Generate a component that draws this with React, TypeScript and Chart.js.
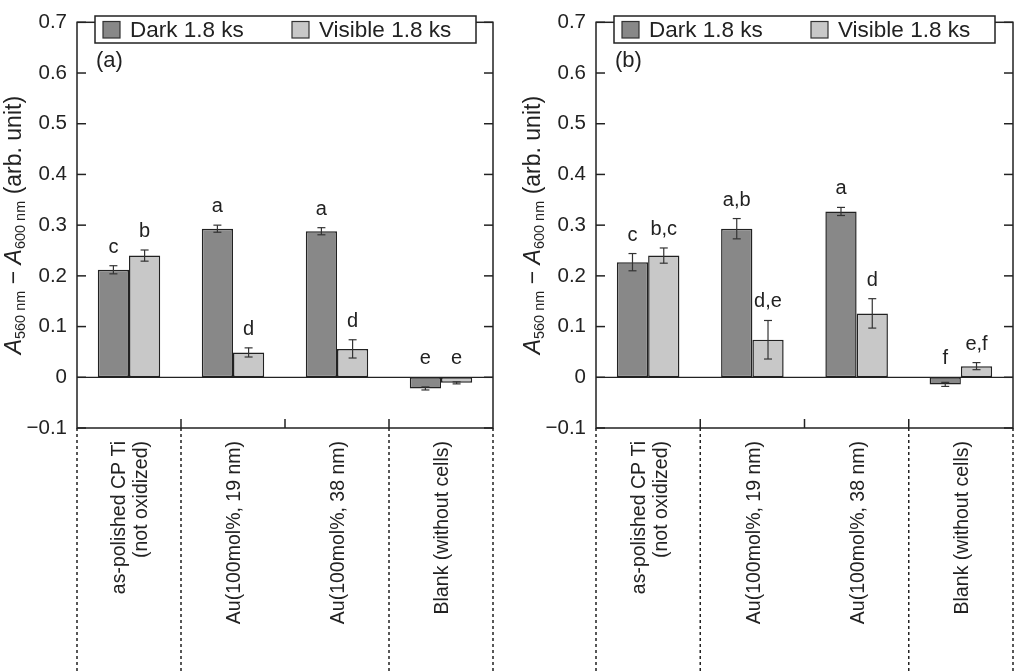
import { useEffect, useRef } from "react";
import { Chart, registerables } from "chart.js";

Chart.register(...registerables);

// categories (two-line label for the first one)
const categories = [
  ["as-polished CP Ti", "(not oxidized)"],
  ["Au(100mol%, 19 nm)"],
  ["Au(100mol%, 38 nm)"],
  ["Blank (without cells)"],
];
const seriesNames = ["Dark 1.8 ks", "Visible 1.8 ks"];

// panel (a)
const darkA = [0.212, 0.293, 0.288, -0.022];
const darkErrA = [0.008, 0.007, 0.007, 0.003];
const darkLetA = ["c", "a", "a", "e"];
const visA = [0.24, 0.049, 0.056, -0.011];
const visErrA = [0.011, 0.009, 0.018, 0.002];
const visLetA = ["b", "d", "d", "e"];

// panel (b)
const darkB = [0.227, 0.293, 0.327, -0.014];
const darkErrB = [0.017, 0.02, 0.008, 0.004];
const darkLetB = ["c", "a,b", "a", "f"];
const visB = [0.24, 0.074, 0.126, 0.022];
const visErrB = [0.015, 0.038, 0.029, 0.007];
const visLetB = ["b,c", "d,e", "d", "e,f"];

// y axis range
const yMin = -0.1;
const yMax = 0.7;
const yStep = 0.1;

// dashed separators below the plot (category boundary indexes)
const dividerAt = [0, 1, 3, 4];

const INK = "#222";
const DARK = "#888888";
const LIGHT = "#c8c8c8";
const FAMILY = '"Liberation Sans", Arial, Helvetica, sans-serif';
const font = (size: number, style = "") => `${style} ${size}px ${FAMILY}`.trim();

const titleParts = [
  { t: "A", italic: true },
  { t: "560 nm", sub: true },
  { t: " \u2212 " },
  { t: "A", italic: true },
  { t: "600 nm", sub: true },
  { t: " (arb. unit)" },
];

function line(ctx: CanvasRenderingContext2D, x1: number, y1: number, x2: number, y2: number) {
  ctx.beginPath();
  ctx.moveTo(x1, y1);
  ctx.lineTo(x2, y2);
  ctx.stroke();
}

const decor = {
  id: "decor",
  afterDatasetsDraw(chart: any, _args: any, opts: any) {
    const { ctx, chartArea: a, scales } = chart;
    const x = scales.x;
    const y = scales.y;
    const half = (x.getPixelForValue(1) - x.getPixelForValue(0)) / 2;
    const edge = (k: number) => x.getPixelForValue(0) - half + k * 2 * half;

    ctx.save();
    ctx.strokeStyle = INK;
    ctx.fillStyle = INK;

    // zero line
    ctx.lineWidth = 1.2;
    const y0 = y.getPixelForValue(0);
    line(ctx, a.left, y0, a.right, y0);

    // error bars
    chart.data.datasets.forEach((ds: any, di: number) => {
      const meta = chart.getDatasetMeta(di);
      meta.data.forEach((bar: any, i: number) => {
        const v = ds.data[i];
        const e = ds.errors[i];
        const top = y.getPixelForValue(v + e);
        const bot = y.getPixelForValue(v - e);
        ctx.strokeStyle = "#333";
        ctx.lineWidth = 1.2;
        line(ctx, bar.x, top, bar.x, bot);
        line(ctx, bar.x - 4, top, bar.x + 4, top);
        line(ctx, bar.x - 4, bot, bar.x + 4, bot);
        // significance letters
        ctx.fillStyle = INK;
        ctx.font = font(20);
        ctx.textAlign = "center";
        ctx.textBaseline = "alphabetic";
        ctx.fillText(ds.letters[i], bar.x, y.getPixelForValue(Math.max(0, v + e)) - 13);
      });
    });

    // frame
    ctx.strokeStyle = INK;
    ctx.lineWidth = 1.5;
    ctx.strokeRect(a.left, a.top, a.right - a.left, a.bottom - a.top);

    // inward y ticks both sides
    y.ticks.forEach((t: any) => {
      const py = y.getPixelForValue(t.value);
      line(ctx, a.left, py, a.left + 9, py);
      line(ctx, a.right - 9, py, a.right, py);
    });

    // inward ticks at category boundaries
    for (let k = 1; k < categories.length; k++) {
      const bx = edge(k);
      line(ctx, bx, a.top, bx, a.top + 9);
      line(ctx, bx, a.bottom - 9, bx, a.bottom);
    }

    // dashed separators below
    ctx.setLineDash([3, 3]);
    dividerAt.forEach((k) => {
      const bx = edge(k);
      line(ctx, bx, a.bottom, bx, chart.height);
    });
    ctx.setLineDash([]);

    // legend box
    const lx = a.left + 18;
    ctx.fillStyle = "#fff";
    ctx.fillRect(lx, 16, 381, 27);
    ctx.lineWidth = 1.5;
    ctx.strokeRect(lx, 16, 381, 27);
    const swatchX = [a.left + 26, a.left + 215];
    chart.data.datasets.forEach((ds: any, di: number) => {
      ctx.fillStyle = ds.backgroundColor;
      ctx.fillRect(swatchX[di], 21.5, 17, 16.5);
      ctx.lineWidth = 1.2;
      ctx.strokeStyle = "#333";
      ctx.strokeRect(swatchX[di], 21.5, 17, 16.5);
      ctx.fillStyle = INK;
      ctx.font = font(22.5);
      ctx.textAlign = "left";
      ctx.textBaseline = "alphabetic";
      ctx.fillText(ds.label, swatchX[di] + 27, 37);
    });

    // panel tag
    ctx.fillStyle = INK;
    ctx.font = font(22);
    ctx.textAlign = "left";
    ctx.fillText(opts.tag, a.left + 19, 67);

    // y title with italic A and subscripts
    ctx.save();
    ctx.translate(a.left - 56, (a.top + a.bottom) / 2);
    ctx.rotate(-Math.PI / 2);
    const fontFor = (p: any) => (p.sub ? font(14.5) : font(23, p.italic ? "italic" : ""));
    let total = 0;
    titleParts.forEach((p) => {
      ctx.font = fontFor(p);
      total += ctx.measureText(p.t).width;
    });
    let cx = -total / 2;
    ctx.textAlign = "left";
    ctx.textBaseline = "alphabetic";
    titleParts.forEach((p: any) => {
      ctx.font = fontFor(p);
      ctx.fillText(p.t, cx, p.sub ? 4 : 0);
      cx += ctx.measureText(p.t).width;
    });
    ctx.restore();

    // rotated category labels
    ctx.font = font(19.5);
    ctx.fillStyle = INK;
    categories.forEach((lines, i) => {
      const center = x.getPixelForValue(i);
      lines.forEach((txt, j) => {
        const px = center + 2 + (j - (lines.length - 1) / 2) * 22;
        ctx.save();
        ctx.translate(px, a.bottom + 13);
        ctx.rotate(-Math.PI / 2);
        ctx.textAlign = "right";
        ctx.textBaseline = "middle";
        ctx.fillText(txt, 0, 0);
        ctx.restore();
      });
    });

    ctx.restore();
  },
};

type PanelProps = {
  tag: string;
  dark: number[];
  darkErr: number[];
  darkLet: string[];
  vis: number[];
  visErr: number[];
  visLet: string[];
  axisWidth: number;
  padRight: number;
};

function Panel(props: PanelProps) {
  const canvasRef = useRef<HTMLCanvasElement>(null);

  useEffect(() => {
    const canvas = canvasRef.current;
    if (!canvas) return;
    const chart = new Chart(canvas, {
      type: "bar",
      data: {
        labels: categories.map((c) => c.join(" ")),
        datasets: [
          {
            label: seriesNames[0],
            data: props.dark,
            errors: props.darkErr,
            letters: props.darkLet,
            backgroundColor: DARK,
            borderColor: INK,
            borderWidth: 1.5,
            borderSkipped: false,
            categoryPercentage: 0.6,
            barPercentage: 1.0,
          } as any,
          {
            label: seriesNames[1],
            data: props.vis,
            errors: props.visErr,
            letters: props.visLet,
            backgroundColor: LIGHT,
            borderColor: INK,
            borderWidth: 1.5,
            borderSkipped: false,
            categoryPercentage: 0.6,
            barPercentage: 1.0,
          } as any,
        ],
      },
      options: {
        animation: false,
        responsive: true,
        maintainAspectRatio: false,
        layout: { padding: { top: 12, right: props.padRight, bottom: 0, left: 0 } },
        plugins: {
          legend: { display: false },
          tooltip: { enabled: false },
          decor: { tag: props.tag },
        } as any,
        scales: {
          x: {
            type: "category",
            offset: true,
            grid: { display: false },
            border: { display: false },
            ticks: { display: false },
            afterFit: (s: any) => {
              s.height = 243;
            },
          },
          y: {
            min: yMin,
            max: yMax,
            grid: { display: false, drawTicks: false },
            border: { display: false },
            ticks: {
              stepSize: yStep,
              padding: 10,
              color: INK,
              font: { family: FAMILY, size: 20.5 },
              callback: (v: any) => {
                const n = Number(v);
                if (Math.abs(n) < 1e-9) return "0";
                return (n < 0 ? "\u2212" : "") + Math.abs(n).toFixed(1);
              },
            },
            afterFit: (s: any) => {
              s.width = props.axisWidth;
            },
          },
        },
      },
      plugins: [decor],
    });
    return () => chart.destroy();
  }, [props]);

  return <canvas ref={canvasRef} aria-label={`bar chart panel ${props.tag}`} />;
}

const panelA: PanelProps = {
  tag: "(a)",
  dark: darkA,
  darkErr: darkErrA,
  darkLet: darkLetA,
  vis: visA,
  visErr: visErrA,
  visLet: visLetA,
  axisWidth: 77,
  padRight: 14,
};

const panelB: PanelProps = {
  tag: "(b)",
  dark: darkB,
  darkErr: darkErrB,
  darkLet: darkLetB,
  vis: visB,
  visErr: visErrB,
  visLet: visLetB,
  axisWidth: 89,
  padRight: 2,
};

export default function App() {
  return (
    <div style={{ position: "absolute", left: 0, top: 0, width: 1015, height: 671, background: "#fff" }}>
      <div style={{ position: "absolute", left: 0, top: 0, width: 507, height: 671 }}>
        <Panel {...panelA} />
      </div>
      <div style={{ position: "absolute", left: 507, top: 0, width: 508, height: 671 }}>
        <Panel {...panelB} />
      </div>
    </div>
  );
}
